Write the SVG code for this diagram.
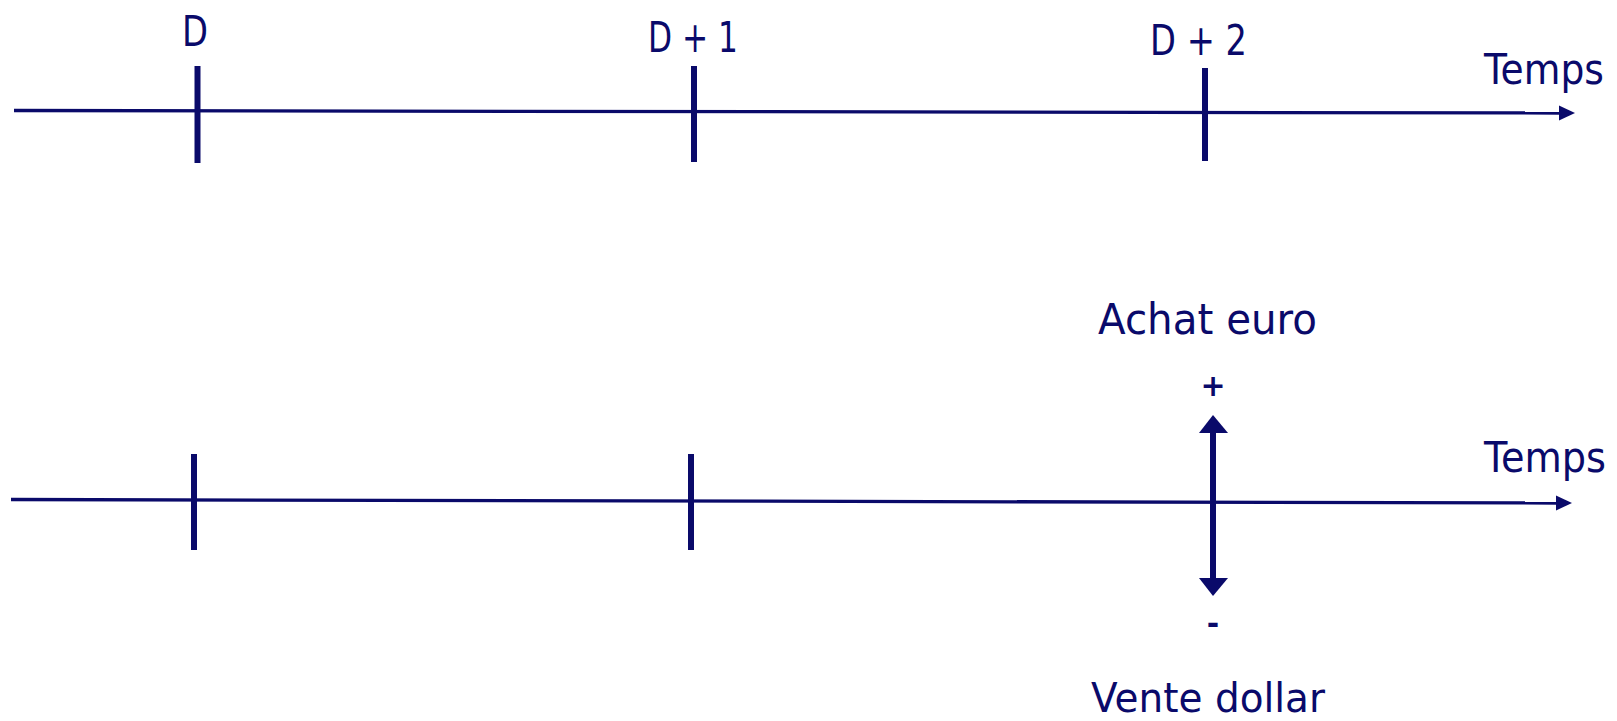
<svg xmlns="http://www.w3.org/2000/svg" width="1617" height="721" viewBox="0 0 1617 721">
<style>
.ax{stroke:#0a0a6a;stroke-width:3.3;fill:none}
.tk{stroke:#0a0a6a;stroke-width:6;fill:none}
.hd{fill:#0a0a6a}
text{font-family:"DejaVu Sans",sans-serif;font-size:42px;fill:#0a0a6a}
.sg{font-size:30px;font-weight:bold}
</style>
<rect width="1617" height="721" fill="#ffffff"/>
<g id="connectors">
<path class="ax" d="M14 110.5 L1561 113"/>
<polygon class="hd" points="1575,113 1559,105.5 1559,120.5"/>
<path class="ax" d="M11 499.5 L1558 503"/>
<polygon class="hd" points="1572,503 1556,495.5 1556,510.5"/>
<path class="tk" d="M1213 430 L1213 582"/>
<polygon class="hd" points="1213,415 1199,433 1228,433"/>
<polygon class="hd" points="1213,596 1199,578 1228,578"/>
</g>
<g id="tick-D"><path class="tk" d="M197.5 66 L197.5 163"/><text x="182" y="46" textLength="26" lengthAdjust="spacingAndGlyphs">D</text></g>
<g id="tick-D1"><path class="tk" d="M694 66 L694 162"/><text x="648" y="52" textLength="90" lengthAdjust="spacingAndGlyphs">D + 1</text></g>
<g id="tick-D2"><path class="tk" d="M1205 68 L1205 161"/><text x="1150" y="55" textLength="97" lengthAdjust="spacingAndGlyphs">D + 2</text></g>
<g id="temps-top"><text x="1484" y="84" textLength="120" lengthAdjust="spacingAndGlyphs">Temps</text></g>
<g id="tick-b1"><path class="tk" d="M194 454 L194 550"/></g>
<g id="tick-b2"><path class="tk" d="M691 454 L691 550"/></g>
<g id="temps-bottom"><text x="1484" y="472" textLength="122" lengthAdjust="spacingAndGlyphs">Temps</text></g>
<g id="achat"><text x="1098" y="334" textLength="219" lengthAdjust="spacingAndGlyphs">Achat euro</text><text class="sg" x="1213" y="396" text-anchor="middle">+</text></g>
<g id="vente"><text x="1091" y="712" textLength="234" lengthAdjust="spacingAndGlyphs" style="font-size:40px">Vente dollar</text><text class="sg" x="1213" y="634" text-anchor="middle">-</text></g>
</svg>
